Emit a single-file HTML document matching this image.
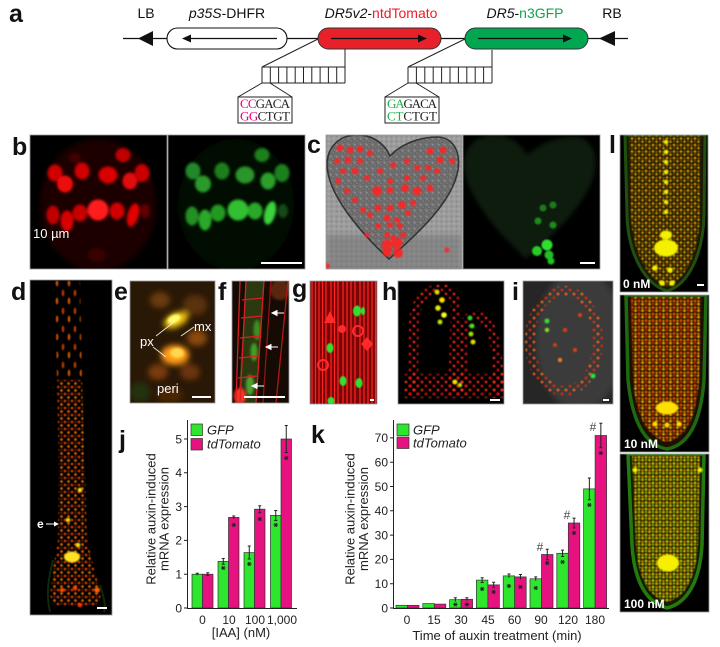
<!DOCTYPE html>
<html><head><meta charset="utf-8"><style>
html,body{margin:0;padding:0;background:#fff;}
svg{display:block;font-family:"Liberation Sans",Arial,sans-serif;}
.g{fill:#2ee62e;stroke:#333;stroke-width:.7}
.m{fill:#e5127f;stroke:#333;stroke-width:.7}
.lab{font-weight:bold;font-size:25px;fill:#111}
.tk{font-size:12px;fill:#222}
.tt{font-size:13px;fill:#222}
.eb{stroke:#222;stroke-width:1;fill:none}
</style></head><body>
<svg width="720" height="647" viewBox="0 0 720 647" xmlns="http://www.w3.org/2000/svg">
<defs>
<filter id="b3" x="-50%" y="-50%" width="200%" height="200%"><feGaussianBlur stdDeviation="3"/></filter>
<filter id="b15" x="-50%" y="-50%" width="200%" height="200%"><feGaussianBlur stdDeviation="1.4"/></filter>
<filter id="b08"><feGaussianBlur stdDeviation="0.7"/></filter>
<filter id="b04"><feGaussianBlur stdDeviation="0.45"/></filter>
<g id="st"><path d="M-2.2 0h4.4M-1.2-1.9l2.4 3.8M1.2-1.9l-2.4 3.8" stroke="#222" stroke-width="1"/></g>
<pattern id="pDot" width="7" height="7" patternUnits="userSpaceOnUse"><circle cx="2" cy="2" r="1.4" fill="#ff4a00"/><circle cx="5.5" cy="5.5" r="1.4" fill="#ff8000"/><circle cx="5.5" cy="2" r=".9" fill="#c03000"/></pattern>
<pattern id="pDtop" width="12" height="18" patternUnits="userSpaceOnUse"><ellipse cx="3" cy="5" rx="1.4" ry="3.4" fill="#d84000"/><ellipse cx="9" cy="13" rx="1.4" ry="3.4" fill="#f06000"/></pattern>
<pattern id="pL1" width="7" height="6.5" patternUnits="userSpaceOnUse"><circle cx="2" cy="2" r="1.4" fill="#ffcc00"/><circle cx="5.5" cy="2.3" r="1.1" fill="#ff6a00"/><circle cx="2" cy="5" r="1.1" fill="#c85000"/><circle cx="5.5" cy="5.2" r="1.3" fill="#e8d000"/></pattern>
<pattern id="pL2" width="7" height="6.5" patternUnits="userSpaceOnUse"><circle cx="2" cy="2" r="1.5" fill="#ff5a00"/><circle cx="5.5" cy="2.3" r="1.3" fill="#ff9000"/><circle cx="2" cy="5" r="1.3" fill="#e03000"/><circle cx="5.5" cy="5.2" r="1.5" fill="#ffc400"/></pattern>
<pattern id="pL3" width="7" height="6.5" patternUnits="userSpaceOnUse"><circle cx="2" cy="2" r="1.5" fill="#f0e000"/><circle cx="5.5" cy="2.3" r="1.3" fill="#ffa800"/><circle cx="2" cy="5" r="1.3" fill="#b8d400"/><circle cx="5.5" cy="5.2" r="1.5" fill="#ffd000"/></pattern>
<pattern id="pH" width="8" height="8" patternUnits="userSpaceOnUse"><circle cx="2" cy="2" r="1.5" fill="#e01010"/><circle cx="6" cy="6" r="1.4" fill="#ff3020"/></pattern>
<pattern id="pI" width="8" height="8" patternUnits="userSpaceOnUse"><circle cx="2" cy="2" r="1.5" fill="#e02a10"/><circle cx="6" cy="6" r="1.4" fill="#ff7020"/></pattern>
<pattern id="pCell" width="6" height="6" patternUnits="userSpaceOnUse"><rect width="6" height="6" fill="#747474"/><circle cx="3" cy="3" r="2" fill="none" stroke="#5e5e5e" stroke-width=".8"/><circle cx="1" cy="1" r=".7" fill="#a0a0a0"/></pattern>
<pattern id="pGr" width="5" height="5" patternUnits="userSpaceOnUse"><rect width="5" height="5" fill="#9c9c9c"/><circle cx="1.5" cy="1.5" r="1" fill="#888"/><circle cx="4" cy="3.8" r=".8" fill="#b0b0b0"/></pattern>
<clipPath id="cb1"><rect x="30" y="135" width="137" height="134"/></clipPath>
<clipPath id="cb2"><rect x="168" y="135" width="137" height="134"/></clipPath>
<clipPath id="cc1"><rect x="326" y="135" width="136" height="134"/></clipPath>
<clipPath id="cc2"><rect x="463" y="135" width="137" height="134"/></clipPath>
<clipPath id="cd"><rect x="30" y="280" width="82" height="335"/></clipPath>
<clipPath id="ce"><rect x="130" y="281" width="85" height="122"/></clipPath>
<clipPath id="cf"><rect x="232" y="281" width="57" height="122"/></clipPath>
<clipPath id="cg"><rect x="310" y="281" width="67" height="123"/></clipPath>
<clipPath id="ch"><rect x="398" y="281" width="106" height="123"/></clipPath>
<clipPath id="ci"><rect x="523" y="281" width="90" height="123"/></clipPath>
<clipPath id="cl1"><rect x="620" y="135" width="88" height="157"/></clipPath>
<clipPath id="cl2"><rect x="620" y="295" width="89" height="157"/></clipPath>
<clipPath id="cl3"><rect x="620" y="454" width="89" height="158"/></clipPath>
</defs>
<rect width="720" height="647" fill="#fff"/>

<!-- ===== Panel a ===== -->
<text x="9" y="22" class="lab" font-size="24">a</text>
<g font-size="14" fill="#111">
<text x="146" y="18" text-anchor="middle">LB</text>
<text x="227" y="18" text-anchor="middle"><tspan font-style="italic">p35S</tspan>-DHFR</text>
<text x="381" y="18" text-anchor="middle"><tspan font-style="italic">DR5v2</tspan>-<tspan fill="#ee1c25">ntdTomato</tspan></text>
<text x="525" y="18" text-anchor="middle"><tspan font-style="italic">DR5</tspan>-<tspan fill="#10a64a">n3GFP</tspan></text>
<text x="612" y="18" text-anchor="middle">RB</text>
</g>
<line x1="123" y1="38.5" x2="628" y2="38.5" stroke="#111" stroke-width="1.3"/>
<polygon points="138,38.5 153,31 153,46" fill="#111"/>
<polygon points="599,38.5 615,31 615,46" fill="#111"/>
<rect x="167" y="28" width="120" height="21" rx="10.5" fill="#fff" stroke="#111" stroke-width="1.1"/>
<line x1="186" y1="38.5" x2="277" y2="38.5" stroke="#111" stroke-width="1.2"/>
<polygon points="182,38.5 191,34.5 191,42.5" fill="#111"/>
<rect x="318" y="28" width="123" height="21" rx="10.5" fill="#e8202a" stroke="#333" stroke-width="1"/>
<line x1="331" y1="38.5" x2="421" y2="38.5" stroke="#111" stroke-width="1.2"/>
<polygon points="427,38.5 418,34.5 418,42.5" fill="#111"/>
<rect x="465" y="28" width="123" height="21" rx="10.5" fill="#00a650" stroke="#333" stroke-width="1"/>
<line x1="478" y1="38.5" x2="566" y2="38.5" stroke="#111" stroke-width="1.2"/>
<polygon points="572,38.5 563,34.5 563,42.5" fill="#111"/>
<g stroke="#222" stroke-width="1" fill="none">
<line x1="318" y1="39" x2="262" y2="67"/>
<line x1="345" y1="49" x2="345" y2="83"/>
<path d="M262 67H345M262 83H345M262 67V83M270.3 67V83M278.6 67V83M286.9 67V83M295.2 67V83M303.5 67V83M311.8 67V83M320.1 67V83M328.4 67V83M336.7 67V83"/>
<line x1="262" y1="83" x2="238" y2="97"/><line x1="270" y1="83" x2="292" y2="97"/>
<rect x="238" y="97" width="54" height="26" fill="#fff"/>
<line x1="465" y1="39" x2="408" y2="67"/>
<line x1="492" y1="50" x2="492" y2="83"/>
<path d="M408 67H492M408 83H492M408 67V83M416.4 67V83M424.8 67V83M433.2 67V83M441.6 67V83M450 67V83M458.4 67V83M466.8 67V83M475.2 67V83M483.6 67V83"/>
<line x1="408" y1="83" x2="385" y2="97"/><line x1="416" y1="83" x2="439" y2="97"/>
<rect x="385" y="97" width="54" height="26" fill="#fff"/>
</g>
<g font-family="Liberation Serif, serif" font-size="13" fill="#222">
<text x="240" y="108" textLength="50"><tspan fill="#e6007e">CC</tspan>GACA</text>
<text x="240" y="120.5" textLength="50"><tspan fill="#e6007e">GG</tspan>CTGT</text>
<text x="387" y="108" textLength="50"><tspan fill="#1fae4a">GA</tspan>GACA</text>
<text x="387" y="120.5" textLength="50"><tspan fill="#1fae4a">CT</tspan>CTGT</text>
</g>

<!-- ===== Panel b ===== -->
<text x="12" y="155" class="lab">b</text>
<g clip-path="url(#cb1)">
<rect x="30" y="135" width="137" height="134" fill="#000"/>
<ellipse cx="98" cy="205" rx="58" ry="66" fill="#1c0000" filter="url(#b3)"/>
<g filter="url(#b15)">
<ellipse cx="123" cy="155" rx="7.5" ry="7" fill="#c00000"/>
<ellipse cx="75" cy="158" rx="6" ry="5" fill="#400000"/>
<ellipse cx="55" cy="173" rx="7.5" ry="8.5" fill="#d00000"/>
<ellipse cx="65" cy="184" rx="8" ry="8.5" fill="#ee0a0a"/>
<ellipse cx="82" cy="171" rx="7.5" ry="8.5" fill="#d00000"/>
<ellipse cx="108" cy="175" rx="9.5" ry="8.5" fill="#d80404"/>
<ellipse cx="130" cy="181" rx="7.5" ry="8.5" fill="#e00808"/>
<ellipse cx="142" cy="173" rx="7.5" ry="9" fill="#c80000"/>
<ellipse cx="53" cy="215" rx="6.5" ry="9.5" fill="#c00000"/>
<ellipse cx="67" cy="221" rx="6.5" ry="10.5" fill="#d80000"/>
<ellipse cx="80" cy="213" rx="7.5" ry="8.5" fill="#c80000"/>
<ellipse cx="98" cy="210" rx="10.5" ry="10.5" fill="#ff1a1a"/>
<ellipse cx="117" cy="211" rx="7.5" ry="8.5" fill="#d00000"/>
<ellipse cx="133" cy="215" rx="5.5" ry="12" fill="#e00000" transform="rotate(15 133 215)"/>
<ellipse cx="145" cy="211" rx="5" ry="7" fill="#600000"/>
<ellipse cx="97" cy="255" rx="9" ry="7" fill="#380000"/>
</g>
<text x="33" y="238" font-size="13" fill="#fff">10 µm</text>
</g>
<g clip-path="url(#cb2)">
<rect x="168" y="135" width="137" height="134" fill="#000"/>
<ellipse cx="236" cy="205" rx="58" ry="66" fill="#021002" filter="url(#b3)"/>
<g filter="url(#b15)">
<ellipse cx="262" cy="155" rx="7.5" ry="7" fill="#1f801f"/>
<ellipse cx="193" cy="171" rx="7.5" ry="8.5" fill="#23882a"/>
<ellipse cx="203" cy="184" rx="8" ry="8.5" fill="#2a9a2a"/>
<ellipse cx="222" cy="171" rx="7.5" ry="8.5" fill="#1f7f1f"/>
<ellipse cx="245" cy="175" rx="9.5" ry="8.5" fill="#2a952a"/>
<ellipse cx="268" cy="181" rx="7.5" ry="8.5" fill="#2aa02a"/>
<ellipse cx="282" cy="173" rx="7.5" ry="9" fill="#1f801f"/>
<ellipse cx="192" cy="216" rx="6.5" ry="9.5" fill="#229022"/>
<ellipse cx="205" cy="220" rx="6.5" ry="10.5" fill="#2aa82a"/>
<ellipse cx="218" cy="213" rx="7.5" ry="8.5" fill="#229a22"/>
<ellipse cx="238" cy="210" rx="10.5" ry="10.5" fill="#33c033"/>
<ellipse cx="255" cy="211" rx="7.5" ry="8.5" fill="#2aa82a"/>
<ellipse cx="270" cy="213" rx="5.5" ry="12" fill="#3ad23a" transform="rotate(15 270 213)"/>
<ellipse cx="283" cy="211" rx="5" ry="7" fill="#124a12"/>
</g>
<line x1="261" y1="263" x2="302" y2="263" stroke="#fff" stroke-width="2"/>
</g>

<!-- ===== Panel c ===== -->
<text x="307" y="153" class="lab">c</text>
<g clip-path="url(#cc1)">
<rect x="326" y="135" width="136" height="134" fill="url(#pGr)"/>
<rect x="326" y="235" width="136" height="40" fill="#707070" opacity=".5" filter="url(#b3)"/>
<path d="M390 156C384 142 370 134 355 135C338 136 327 148 327 165C328 195 360 232 389 259C410 240 452 205 458 170C461 150 452 137 437 137C418 137 400 145 390 156Z" fill="url(#pCell)" stroke="#333" stroke-width="1.6"/>
<g fill="#ff2424" filter="url(#b08)" opacity=".9">
<circle cx="340" cy="148" r="3.5"/><circle cx="350" cy="150" r="3.5"/><circle cx="360" cy="149" r="3.5"/><circle cx="370" cy="153" r="3"/>
<circle cx="348" cy="160" r="3.5"/><circle cx="337" cy="161" r="3"/><circle cx="360" cy="161" r="3"/><circle cx="355" cy="171" r="3.5"/>
<circle cx="343" cy="171" r="3"/><circle cx="367" cy="178" r="3"/><circle cx="380" cy="171" r="3"/><circle cx="393" cy="165" r="3"/>
<circle cx="407" cy="161" r="3"/><circle cx="417" cy="168" r="3"/><circle cx="430" cy="151" r="3.5"/><circle cx="440" cy="160" r="3.5"/>
<circle cx="443" cy="150" r="3.5"/><circle cx="452" cy="161" r="3"/><circle cx="428" cy="168" r="3"/><circle cx="437" cy="171" r="3"/>
<circle cx="423" cy="178" r="3"/><circle cx="407" cy="178" r="3"/><circle cx="390" cy="181" r="3"/>
<circle cx="377" cy="191" r="5"/><circle cx="390" cy="190" r="3.5"/><circle cx="405" cy="188" r="4"/><circle cx="417" cy="191" r="4.5"/><circle cx="430" cy="188" r="3.5"/>
<circle cx="378" cy="208" r="3.5"/><circle cx="390" cy="208" r="3.5"/><circle cx="402" cy="205" r="4"/><circle cx="413" cy="203" r="3"/>
<circle cx="370" cy="215" r="3"/><circle cx="387" cy="218" r="3.5"/><circle cx="397" cy="220" r="3"/><circle cx="408" cy="213" r="3"/>
<circle cx="378" cy="226" r="3"/><circle cx="390" cy="225" r="3"/><circle cx="400" cy="226" r="3"/><circle cx="387" cy="235" r="3"/>
<circle cx="403" cy="235" r="3"/><circle cx="393" cy="238" r="3"/><circle cx="367" cy="235" r="2.5"/>
<circle cx="338" cy="181" r="3"/><circle cx="347" cy="191" r="3"/><circle cx="355" cy="200" r="3"/><circle cx="363" cy="210" r="3"/>
<circle cx="387" cy="245" r="5.5"/><circle cx="397" cy="243" r="5.5"/><circle cx="398" cy="253" r="5"/><circle cx="387" cy="252" r="4.5"/>
<circle cx="327" cy="266" r="3"/><circle cx="447" cy="250" r="2.5"/>
</g>
</g>
<g clip-path="url(#cc2)">
<rect x="463" y="135" width="137" height="134" fill="#000"/>
<path d="M527 156C521 142 507 134 492 135C475 136 464 148 464 165C465 195 497 232 526 259C547 240 589 205 595 170C598 150 589 137 574 137C555 137 537 145 527 156Z" fill="#0b1f0b" filter="url(#b3)"/>
<g fill="#22c022" filter="url(#b08)">
<circle cx="543" cy="208" r="3.5" fill="#1a7a1a"/><circle cx="553" cy="205" r="3.5" fill="#1a7a1a"/>
<circle cx="538" cy="221" r="3.5" fill="#1e8a1e"/><circle cx="553" cy="225" r="3.5" fill="#1e8a1e"/>
<circle cx="547" cy="245" r="5.5" fill="#2ee02e"/><circle cx="537" cy="251" r="5" fill="#28cc28"/>
<circle cx="549" cy="255" r="4.5"/><circle cx="551" cy="261" r="3.5"/>
</g>
<line x1="580" y1="263" x2="595" y2="263" stroke="#fff" stroke-width="2"/>
</g>

<!-- ===== Panel l ===== -->
<text x="609" y="153" class="lab">l</text>
<g clip-path="url(#cl1)">
<rect x="620" y="135" width="88" height="157" fill="#000"/>
<path d="M625 135L705 135L704 215C703 255 688 285 667 291C646 285 628 255 627 215Z" fill="#1c1800" stroke="#1f5010" stroke-width="3"/>
<path d="M629 135L701 135L700 215C699 252 686 280 667 287C648 280 632 252 631 215Z" fill="url(#pL1)" opacity=".7" filter="url(#b04)"/>
<g fill="#f4f000" filter="url(#b08)">
<circle cx="666" cy="142" r="2.3"/><circle cx="666" cy="152" r="2.3"/><circle cx="666" cy="162" r="2.3"/><circle cx="666" cy="172" r="2.3"/><circle cx="666" cy="182" r="2.3"/><circle cx="666" cy="192" r="2.3"/><circle cx="666" cy="202" r="2.3"/><circle cx="666" cy="212" r="2.3"/>
<ellipse cx="666" cy="248" rx="12" ry="8.5"/><ellipse cx="666" cy="235" rx="6" ry="4.5"/>
<circle cx="655" cy="268" r="2.8"/><circle cx="670" cy="270" r="2.8"/><circle cx="662" cy="283" r="2.8"/><circle cx="672" cy="283" r="2.8"/>
</g>
<text x="623" y="288" font-size="12" font-weight="bold" fill="#fff">0 nM</text>
<line x1="697" y1="285" x2="704" y2="285" stroke="#fff" stroke-width="2"/>
</g>
<g clip-path="url(#cl2)">
<rect x="620" y="295" width="89" height="157" fill="#000"/>
<path d="M626 295L706 295L704 380C701 420 690 445 667 449C644 445 632 420 628 380Z" fill="#1c1000" stroke="#1f6a10" stroke-width="3.5"/>
<path d="M631 297L701 297L699 380C697 415 687 438 667 442C647 438 636 415 633 380Z" fill="url(#pL2)" opacity=".8" filter="url(#b04)"/>
<g fill="#ffe000" filter="url(#b08)"><ellipse cx="667" cy="408" rx="11" ry="6.5"/><circle cx="655" cy="424" r="2.5"/><circle cx="667" cy="425" r="2.5"/><circle cx="679" cy="424" r="2.5"/></g>
<text x="624" y="448" font-size="12" font-weight="bold" fill="#fff">10 nM</text>
</g>
<g clip-path="url(#cl3)">
<rect x="620" y="454" width="89" height="158" fill="#000"/>
<path d="M628 454L704 454L702 545C700 580 688 603 667 608C646 603 634 580 632 545Z" fill="#141c00" stroke="#247a10" stroke-width="3.5"/>
<path d="M632 456L700 456L698 545C696 577 686 597 667 602C648 597 638 577 636 545Z" fill="url(#pL3)" opacity=".75" filter="url(#b04)"/>
<g fill="#f6f000" filter="url(#b08)"><ellipse cx="668" cy="563" rx="11" ry="8.5"/><circle cx="635" cy="470" r="2.5"/><circle cx="700" cy="470" r="2.5"/></g>
<text x="624" y="608" font-size="12" font-weight="bold" fill="#fff">100 nM</text>
</g>
<g fill="none" stroke="#999" stroke-width=".8">
<rect x="620" y="135" width="88" height="157"/><rect x="620" y="295" width="89" height="157"/><rect x="620" y="454" width="89" height="158"/>
</g>

<!-- ===== Panel d ===== -->
<text x="11" y="300" class="lab">d</text>
<g clip-path="url(#cd)">
<rect x="30" y="280" width="82" height="335" fill="#000"/>
<path d="M53 560C48 580 46 595 50 612M100 585C104 598 106 605 104 612" stroke="#0c2a0c" stroke-width="2" fill="none"/>
<path d="M55 281L80 281L82 380L57 380Z" fill="url(#pDtop)" opacity=".8" filter="url(#b04)"/>
<path d="M57 380L82 380L85 470L87 540L97 580L101 596L96 606L56 606L50 596L53 570L58 540L59 470Z" fill="url(#pDot)" opacity=".8" filter="url(#b04)"/>
<g filter="url(#b08)">
<ellipse cx="72" cy="557" rx="8" ry="5.5" fill="#ffe020"/>
<circle cx="80" cy="490" r="2.3" fill="#ffe000"/><circle cx="68" cy="520" r="2.3" fill="#ffd000"/><circle cx="78" cy="545" r="2.3" fill="#ffe000"/>
<circle cx="62" cy="590" r="2.3" fill="#ff5000"/><circle cx="75" cy="588" r="2.3" fill="#ff4000"/><circle cx="97" cy="590" r="2.8" fill="#ff6000"/><circle cx="80" cy="605" r="2.3" fill="#ff3000"/>
</g>
<text x="37" y="528" font-size="12" font-weight="bold" fill="#fff">e</text>
<line x1="46" y1="524" x2="55" y2="524" stroke="#fff" stroke-width="1"/>
<polygon points="59,524 54,521.5 54,526.5" fill="#fff"/>
<line x1="97" y1="608" x2="107" y2="608" stroke="#fff" stroke-width="2"/>
</g>

<!-- ===== Panel e ===== -->
<text x="114" y="300" class="lab">e</text>
<g clip-path="url(#ce)">
<rect x="130" y="281" width="85" height="122" fill="#2a1806"/>
<g filter="url(#b3)">
<ellipse cx="160" cy="300" rx="10" ry="8" fill="#6a3a08"/>
<ellipse cx="195" cy="305" rx="12" ry="10" fill="#5a3008"/>
<ellipse cx="176" cy="320" rx="13" ry="7" fill="#f0c010" transform="rotate(-25 176 320)"/>
<ellipse cx="197" cy="338" rx="10" ry="8" fill="#8a4a0a"/>
<ellipse cx="175" cy="355" rx="14" ry="10" fill="#ff9a18"/>
<ellipse cx="158" cy="372" rx="10" ry="8" fill="#7a3a08"/>
<ellipse cx="190" cy="372" rx="10" ry="8" fill="#6a3508"/>
<ellipse cx="170" cy="395" rx="13" ry="8" fill="#4a2806"/>
<ellipse cx="140" cy="392" rx="10" ry="10" fill="#203010"/>
</g>
<g filter="url(#b15)"><ellipse cx="174" cy="319" rx="7" ry="4" fill="#ffff70" transform="rotate(-25 174 319)"/><ellipse cx="177" cy="353" rx="7" ry="5" fill="#ffd850"/></g>
<g stroke="#eee" stroke-width=".8"><line x1="156" y1="336" x2="174" y2="322"/><line x1="153" y1="347" x2="166" y2="357"/><line x1="194" y1="327" x2="181" y2="336"/></g>
<g fill="#fff" font-size="13"><text x="140" y="346">px</text><text x="194" y="331">mx</text><text x="157" y="393">peri</text></g>
<line x1="192" y1="397" x2="211" y2="397" stroke="#fff" stroke-width="2"/>
</g>

<!-- ===== Panel f ===== -->
<text x="218" y="300" class="lab">f</text>
<g clip-path="url(#cf)">
<rect x="232" y="281" width="57" height="122" fill="#150a04"/>
<polygon points="246,281 264,281 256,403 238,403" fill="#2c3810"/>
<g filter="url(#b15)"><ellipse cx="257" cy="330" rx="3.5" ry="10" fill="#3a9020"/><ellipse cx="254" cy="352" rx="3.5" ry="9" fill="#40a020"/><ellipse cx="250" cy="385" rx="4" ry="10" fill="#50a030"/><ellipse cx="240" cy="396" rx="6" ry="8" fill="#ff3020"/><ellipse cx="280" cy="290" rx="10" ry="10" fill="#5a2808"/></g>
<g stroke="#d82020" stroke-width="1.3" fill="none">
<line x1="240" y1="281" x2="236" y2="403"/><line x1="246" y1="281" x2="240" y2="403"/><line x1="264" y1="281" x2="256" y2="403"/>
<line x1="271" y1="281" x2="263" y2="403" stroke="#901414"/><line x1="288" y1="281" x2="276" y2="403" stroke="#b01818"/>
<path d="M242 300L263 298M241 318L262 316M240 338L260 336M239 358L259 356M238 378L257 376"/>
</g>
<g stroke="#fff" stroke-width="1" fill="#fff">
<line x1="284" y1="313" x2="276" y2="313"/><polygon points="272,313 277,310.5 277,315.5"/>
<line x1="278" y1="347" x2="270" y2="347"/><polygon points="266,347 271,344.5 271,349.5"/>
<line x1="264" y1="386" x2="256" y2="386"/><polygon points="252,386 257,383.5 257,388.5"/>
</g>
<line x1="244" y1="397" x2="285" y2="397" stroke="#fff" stroke-width="2"/>
</g>

<!-- ===== Panel g ===== -->
<text x="292" y="297" class="lab">g</text>
<g clip-path="url(#cg)">
<rect x="310" y="281" width="67" height="123" fill="#7a0505"/>
<g stroke="#ff2424" stroke-width="1.2">
<line x1="312" y1="281" x2="312" y2="404"/><line x1="315.5" y1="281" x2="315.5" y2="404"/><line x1="319" y1="281" x2="319" y2="404"/><line x1="322.5" y1="281" x2="322.5" y2="404"/><line x1="326" y1="281" x2="326" y2="404"/><line x1="331" y1="281" x2="331" y2="404"/><line x1="334.5" y1="281" x2="334.5" y2="404"/><line x1="338" y1="281" x2="338" y2="404"/><line x1="343" y1="281" x2="343" y2="404"/><line x1="347" y1="281" x2="347" y2="404"/><line x1="351" y1="281" x2="351" y2="404"/><line x1="355" y1="281" x2="355" y2="404"/><line x1="360" y1="281" x2="360" y2="404"/><line x1="364" y1="281" x2="364" y2="404"/><line x1="368" y1="281" x2="368" y2="404"/><line x1="372" y1="281" x2="372" y2="404"/><line x1="375.5" y1="281" x2="375.5" y2="404"/>
</g>
<g fill="#ff2a2a"><polygon points="330,311 336,323 324,323"/><circle cx="342" cy="329" r="4"/><circle cx="358" cy="331" r="5" fill="none" stroke="#ff2a2a" stroke-width="2"/><polygon points="367,337 373,344 367,351 361,344"/><circle cx="323" cy="365" r="5" fill="none" stroke="#ff2a2a" stroke-width="2"/></g>
<g fill="#30e030" filter="url(#b04)"><ellipse cx="357" cy="311" rx="4" ry="5.5"/><ellipse cx="363" cy="311" rx="2" ry="4"/><ellipse cx="330" cy="348" rx="3.5" ry="5"/><ellipse cx="343" cy="381" rx="3.5" ry="5"/><ellipse cx="359" cy="383" rx="3.5" ry="5"/><ellipse cx="331" cy="401" rx="3.5" ry="4"/></g>
<line x1="370" y1="400" x2="374" y2="400" stroke="#fff" stroke-width="2"/>
</g>

<!-- ===== Panel h ===== -->
<text x="382" y="300" class="lab">h</text>
<g clip-path="url(#ch)">
<rect x="398" y="281" width="106" height="123" fill="#000"/>
<g fill="none" stroke="url(#pH)" stroke-width="10" filter="url(#b04)" opacity=".85">
<path d="M413 395L414 320C416 298 430 288 443 289C455 291 458 302 455 330L453 395"/>
<path d="M462 395L464 330C466 318 472 314 478 316C492 320 496 342 498 370L499 395"/>
</g>
<rect x="404" y="374" width="100" height="24" fill="url(#pH)" filter="url(#b04)" opacity=".85"/>
<g filter="url(#b08)">
<circle cx="437" cy="292" r="2.5" fill="#e0e000"/><circle cx="442" cy="300" r="2.8" fill="#ffe000"/><circle cx="438" cy="308" r="2.8" fill="#e8e800"/><circle cx="444" cy="315" r="2.8" fill="#ffff20"/><circle cx="440" cy="322" r="2.5" fill="#c0e000"/>
<circle cx="470" cy="318" r="2.5" fill="#30d020"/><circle cx="472" cy="326" r="2.5" fill="#50e020"/><circle cx="471" cy="334" r="2.5" fill="#a0e000"/><circle cx="473" cy="342" r="2.5" fill="#e0e000"/>
<circle cx="455" cy="382" r="2.5" fill="#e8e800"/><circle cx="460" cy="385" r="2.2" fill="#c0e000"/>
</g>
<line x1="490" y1="400" x2="500" y2="400" stroke="#fff" stroke-width="2"/>
</g>

<!-- ===== Panel i ===== -->
<text x="512" y="300" class="lab">i</text>
<g clip-path="url(#ci)">
<rect x="523" y="281" width="90" height="123" fill="#262626"/>
<ellipse cx="580" cy="340" rx="45" ry="70" fill="#3a3a3a" filter="url(#b3)"/>
<ellipse cx="564" cy="341" rx="34" ry="50" fill="none" stroke="url(#pI)" stroke-width="10" filter="url(#b04)" opacity=".85"/>
<g filter="url(#b08)"><circle cx="547" cy="321" r="2.5" fill="#30e030"/><circle cx="593" cy="376" r="2.5" fill="#30e030"/><circle cx="547" cy="330" r="2.2" fill="#80e020"/><circle cx="565" cy="330" r="2" fill="#e04010"/><circle cx="575" cy="350" r="2" fill="#e04010"/><circle cx="560" cy="360" r="2" fill="#ff8020"/><circle cx="580" cy="315" r="2" fill="#e04010"/><circle cx="555" cy="345" r="2" fill="#d04010"/></g>
<line x1="603" y1="400" x2="609" y2="400" stroke="#fff" stroke-width="2"/>
</g>

<g fill="none" stroke="#999" stroke-width=".8">
<rect x="30" y="135" width="137" height="134"/><rect x="168" y="135" width="137" height="134"/><rect x="326" y="135" width="136" height="134"/><rect x="463" y="135" width="137" height="134"/>
<rect x="30" y="280" width="82" height="335"/><rect x="130" y="281" width="85" height="122"/><rect x="232" y="281" width="57" height="122"/><rect x="310" y="281" width="67" height="123"/><rect x="398" y="281" width="106" height="123"/><rect x="523" y="281" width="90" height="123"/>
</g>

<!-- ===== Panel j ===== -->
<text x="119" y="448" class="lab">j</text>
<rect x="192" y="574.2" width="10.5" height="33.8" class="g"/>
<rect x="202.5" y="574.2" width="10.5" height="33.8" class="m"/>
<rect x="218" y="561.4" width="10.5" height="46.6" class="g"/>
<rect x="228.5" y="517.4" width="10.5" height="90.6" class="m"/>
<rect x="244" y="552.6" width="10.5" height="55.4" class="g"/>
<rect x="254.5" y="509.2" width="10.5" height="98.8" class="m"/>
<rect x="270.5" y="515.4" width="10.5" height="92.6" class="g"/>
<rect x="281" y="439" width="10.5" height="169" class="m"/>
<path class="eb" d="M197.25 573.2V575.2M195.75 573.2h3M207.75 572.8V575.6M206.25 572.8h3M206.25 575.6h3
M223.25 558.5V564.3M221.75 558.5h3M221.75 564.3h3
M233.75 516V518.8M232.25 516h3
M249.25 546V559M247.75 546h3M247.75 559h3
M259.75 505.7V512.7M258.25 505.7h3M258.25 512.7h3
M275.75 510.5V520.5M274.25 510.5h3M274.25 520.5h3
M286.25 425.5V452.5M284.75 425.5h3M284.75 452.5h3"/>
<use href="#st" x="223.25" y="568"/><use href="#st" x="233.75" y="525"/><use href="#st" x="249.25" y="564"/><use href="#st" x="259.75" y="519"/><use href="#st" x="275.75" y="525"/><use href="#st" x="286.25" y="458"/>
<path d="M187.5 420V608.5H297" fill="none" stroke="#222" stroke-width="1"/>
<path d="M184 608H187.5M184 574.2H187.5M184 540.4H187.5M184 506.6H187.5M184 472.8H187.5M184 439H187.5" stroke="#222" stroke-width="1"/>
<g class="tk" text-anchor="end">
<text x="182" y="612.3">0</text><text x="182" y="578.5">1</text><text x="182" y="544.7">2</text><text x="182" y="510.9">3</text><text x="182" y="477.1">4</text><text x="182" y="443.3">5</text>
</g>
<g class="tk" text-anchor="middle">
<text x="202.5" y="624">0</text><text x="229" y="624">10</text><text x="255" y="624">100</text><text x="282" y="624">1,000</text>
</g>
<text x="241" y="637" class="tt" text-anchor="middle">[IAA] (nM)</text>
<text class="tt" text-anchor="middle" transform="translate(155.5 519) rotate(-90)">Relative auxin-induced</text>
<text class="tt" text-anchor="middle" transform="translate(168.5 519) rotate(-90)">mRNA expression</text>
<rect x="191" y="424" width="11.5" height="11.5" class="g"/>
<rect x="191" y="438.5" width="11.5" height="11.5" class="m"/>
<text x="207" y="434.5" font-size="13" font-style="italic" fill="#222">GFP</text>
<text x="207" y="448.5" font-size="13" font-style="italic" fill="#222">tdTomato</text>

<!-- ===== Panel k ===== -->
<text x="311" y="443" class="lab">k</text>
<rect x="396" y="605.3" width="11.5" height="2.7" class="g"/>
<rect x="422.8" y="603.6" width="11.5" height="4.4" class="g"/>
<rect x="449.6" y="599.7" width="11.5" height="8.3" class="g"/>
<rect x="476.4" y="580.1" width="11.5" height="27.9" class="g"/>
<rect x="503.2" y="575.9" width="11.5" height="32.1" class="g"/>
<rect x="530" y="578.8" width="11.5" height="29.2" class="g"/>
<rect x="556.8" y="553.3" width="11.5" height="54.7" class="g"/>
<rect x="583.6" y="488.9" width="11.5" height="119.1" class="g"/>
<rect x="407.5" y="605.3" width="11.5" height="2.7" class="m"/>
<rect x="434.3" y="604.1" width="11.5" height="3.9" class="m"/>
<rect x="461.1" y="599.3" width="11.5" height="8.7" class="m"/>
<rect x="487.9" y="584.9" width="11.5" height="23.1" class="m"/>
<rect x="514.7" y="576.9" width="11.5" height="31.1" class="m"/>
<rect x="541.5" y="554.5" width="11.5" height="53.5" class="m"/>
<rect x="568.3" y="523" width="11.5" height="85" class="m"/>
<rect x="595.1" y="435.5" width="11.5" height="172.5" class="m"/>
<path class="eb" d="M455.35 597.8V601.6M453.85 597.8h3M466.85 597.8V600.8M465.35 597.8h3
M482.15 577.7V582.5M480.65 577.7h3M480.65 582.5h3M493.65 582.2V587.6M492.15 582.2h3M492.15 587.6h3
M508.95 574V577.8M507.45 574h3M520.45 574.5V579.3M518.95 574.5h3
M535.75 576.9V580.7M534.25 576.9h3M547.25 549.2V559.8M545.75 549.2h3M545.75 559.8h3
M562.55 550.1V556.5M561.05 550.1h3M561.05 556.5h3M574.05 518.1V527.9M572.55 518.1h3M572.55 527.9h3
M589.35 478V499.8M587.85 478h3M587.85 499.8h3M600.85 423.3V447.7M599.35 423.3h3M599.35 447.7h3"/>
<use href="#st" x="455.35" y="604.5"/><use href="#st" x="466.85" y="604.5"/>
<use href="#st" x="482.15" y="589"/><use href="#st" x="493.65" y="592"/>
<use href="#st" x="508.95" y="586"/><use href="#st" x="520.45" y="587"/>
<use href="#st" x="535.75" y="588"/><use href="#st" x="547.25" y="563"/>
<use href="#st" x="562.55" y="562"/><use href="#st" x="574.05" y="533"/>
<use href="#st" x="589.35" y="505"/><use href="#st" x="600.85" y="453"/>
<g font-size="12" fill="#444" text-anchor="middle"><text x="540" y="551">#</text><text x="567" y="519">#</text><text x="593" y="431">#</text></g>
<path d="M393.5 420V608.5H609" fill="none" stroke="#222" stroke-width="1"/>
<path d="M390 608H393.5M390 583.7H393.5M390 559.4H393.5M390 535.1H393.5M390 510.8H393.5M390 486.5H393.5M390 462.2H393.5M390 437.9H393.5" stroke="#222" stroke-width="1"/>
<g class="tk" text-anchor="end">
<text x="388" y="612.3">0</text><text x="388" y="588">10</text><text x="388" y="563.7">20</text><text x="388" y="539.4">30</text><text x="388" y="515.1">40</text><text x="388" y="490.8">50</text><text x="388" y="466.5">60</text><text x="388" y="442.2">70</text>
</g>
<g class="tk" text-anchor="middle">
<text x="407" y="624">0</text><text x="434" y="624">15</text><text x="461" y="624">30</text><text x="488" y="624">45</text><text x="514.5" y="624">60</text><text x="541" y="624">90</text><text x="568" y="624">120</text><text x="595" y="624">180</text>
</g>
<text x="497" y="640" class="tt" text-anchor="middle">Time of auxin treatment (min)</text>
<text class="tt" text-anchor="middle" transform="translate(354.5 519) rotate(-90)">Relative auxin-induced</text>
<text class="tt" text-anchor="middle" transform="translate(368 519) rotate(-90)">mRNA expression</text>
<rect x="397" y="424" width="12" height="11.5" class="g"/>
<rect x="397" y="437" width="12" height="11.5" class="m"/>
<text x="413" y="434.5" font-size="13" font-style="italic" fill="#222">GFP</text>
<text x="413" y="447.5" font-size="13" font-style="italic" fill="#222">tdTomato</text>
</svg>
</body></html>
